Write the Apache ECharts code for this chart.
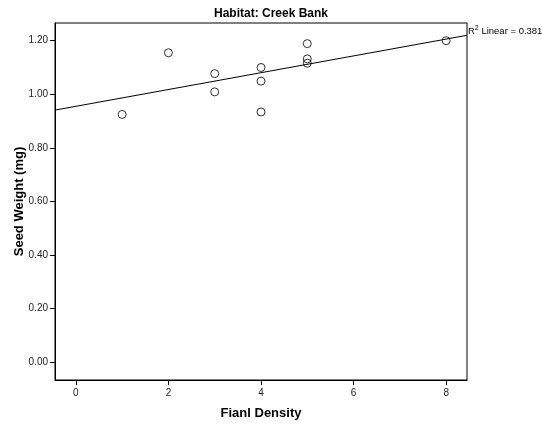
<!DOCTYPE html>
<html>
<head>
<meta charset="utf-8">
<script src="https://cdn.jsdelivr.net/npm/echarts@6/dist/echarts.min.js"></script>
<style>
  html, body { margin: 0; padding: 0; background: #fff; }
  #main { width: 542px; height: 425px; }
</style>
</head>
<body>
<div id="main"></div>
<script>
// 散点数据
var densityValues = [1, 2, 3, 3, 4, 4, 4, 5, 5, 5, 8];
var seedWeights = [0.925, 1.155, 1.077, 1.009, 1.100, 1.049, 0.934, 1.189, 1.132, 1.116, 1.200];
var xTicks = [0, 2, 4, 6, 8];
var yTicks = [0, 0.2, 0.4, 0.6, 0.8, 1.0, 1.2];
var rSquared = '0.381';

var xMin = -0.45, xMax = 8.45;
var yMin = -0.066, yMax = 1.266;

// 最小二乘线性拟合
function linearFit(xs, ys) {
    var n = xs.length, mx = 0, my = 0, sxx = 0, sxy = 0;
    for (var i = 0; i < n; i++) { mx += xs[i]; my += ys[i]; }
    mx /= n; my /= n;
    for (var i = 0; i < n; i++) {
        sxx += (xs[i] - mx) * (xs[i] - mx);
        sxy += (xs[i] - mx) * (ys[i] - my);
    }
    var b = sxy / sxx;
    return { a: my - b * mx, b: b };
}

var points = [];
for (var i = 0; i < densityValues.length; i++) {
    points.push([densityValues[i], seedWeights[i]]);
}
var fit = linearFit(densityValues, seedWeights);
var fitLine = [[xMin, fit.a + fit.b * xMin], [xMax, fit.a + fit.b * xMax]];

var font = '"Liberation Sans", Arial, sans-serif';

var option = {
    backgroundColor: '#fff',
    animation: false,
    title: {
        text: 'Habitat: Creek Bank',
        left: 'center',
        top: 3,
        textStyle: { fontFamily: font, fontSize: 12, fontWeight: 'bold', color: '#000' }
    },
    grid: {
        left: 55, right: 75, top: 23, bottom: 45,
        outerBoundsMode: 'none',
        containLabel: false,
        show: true, borderColor: '#000', borderWidth: 1, backgroundColor: '#fff'
    },
    xAxis: {
        type: 'value',
        min: xMin, max: xMax,
        name: 'Fianl Density',
        nameLocation: 'middle',
        nameGap: 27,
        nameMoveOverlap: false,
        nameTextStyle: { fontFamily: font, fontSize: 13, fontWeight: 'bold', color: '#000' },
        axisLine: { show: true, onZero: false, lineStyle: { color: '#000', width: 1 } },
        axisTick: { show: true, length: 5, customValues: xTicks, lineStyle: { color: '#000' } },
        axisLabel: { customValues: xTicks, fontFamily: font, fontSize: 10, color: '#222', margin: 8 },
        splitLine: { show: false }
    },
    yAxis: {
        type: 'value',
        min: yMin, max: yMax,
        name: 'Seed Weight (mg)',
        nameLocation: 'middle',
        nameGap: 29,
        nameMoveOverlap: false,
        nameTextStyle: { fontFamily: font, fontSize: 13, fontWeight: 'bold', color: '#000' },
        axisLine: { show: true, onZero: false, lineStyle: { color: '#000', width: 1 } },
        axisTick: { show: true, length: 5, customValues: yTicks, lineStyle: { color: '#000' } },
        axisLabel: {
            customValues: yTicks, fontFamily: font, fontSize: 10, color: '#222', margin: 7,
            formatter: function (v) { return v.toFixed(2); }
        },
        splitLine: { show: false }
    },
    series: [
        {
            type: 'line',
            data: fitLine,
            showSymbol: false,
            silent: true,
            lineStyle: { color: '#000', width: 1 },
            endLabel: {
                show: true,
                distance: 1,
                offset: [0, -4],
                formatter: '{a|R}{s|2}{a| Linear = ' + rSquared + '}',
                rich: {
                    a: { fontFamily: font, fontSize: 9.5, color: '#000' },
                    s: { fontFamily: font, fontSize: 7, color: '#000', padding: [0, 0, 6, 0] }
                }
            },
            z: 2
        },
        {
            type: 'scatter',
            data: points,
            symbol: 'circle',
            symbolSize: 8,
            itemStyle: { color: 'rgba(255,255,255,0)', borderColor: '#000', borderWidth: 1 },
            z: 3
        }
    ]
};

var chart = echarts.init(document.getElementById('main'));
chart.setOption(option);
</script>
</body>
</html>
